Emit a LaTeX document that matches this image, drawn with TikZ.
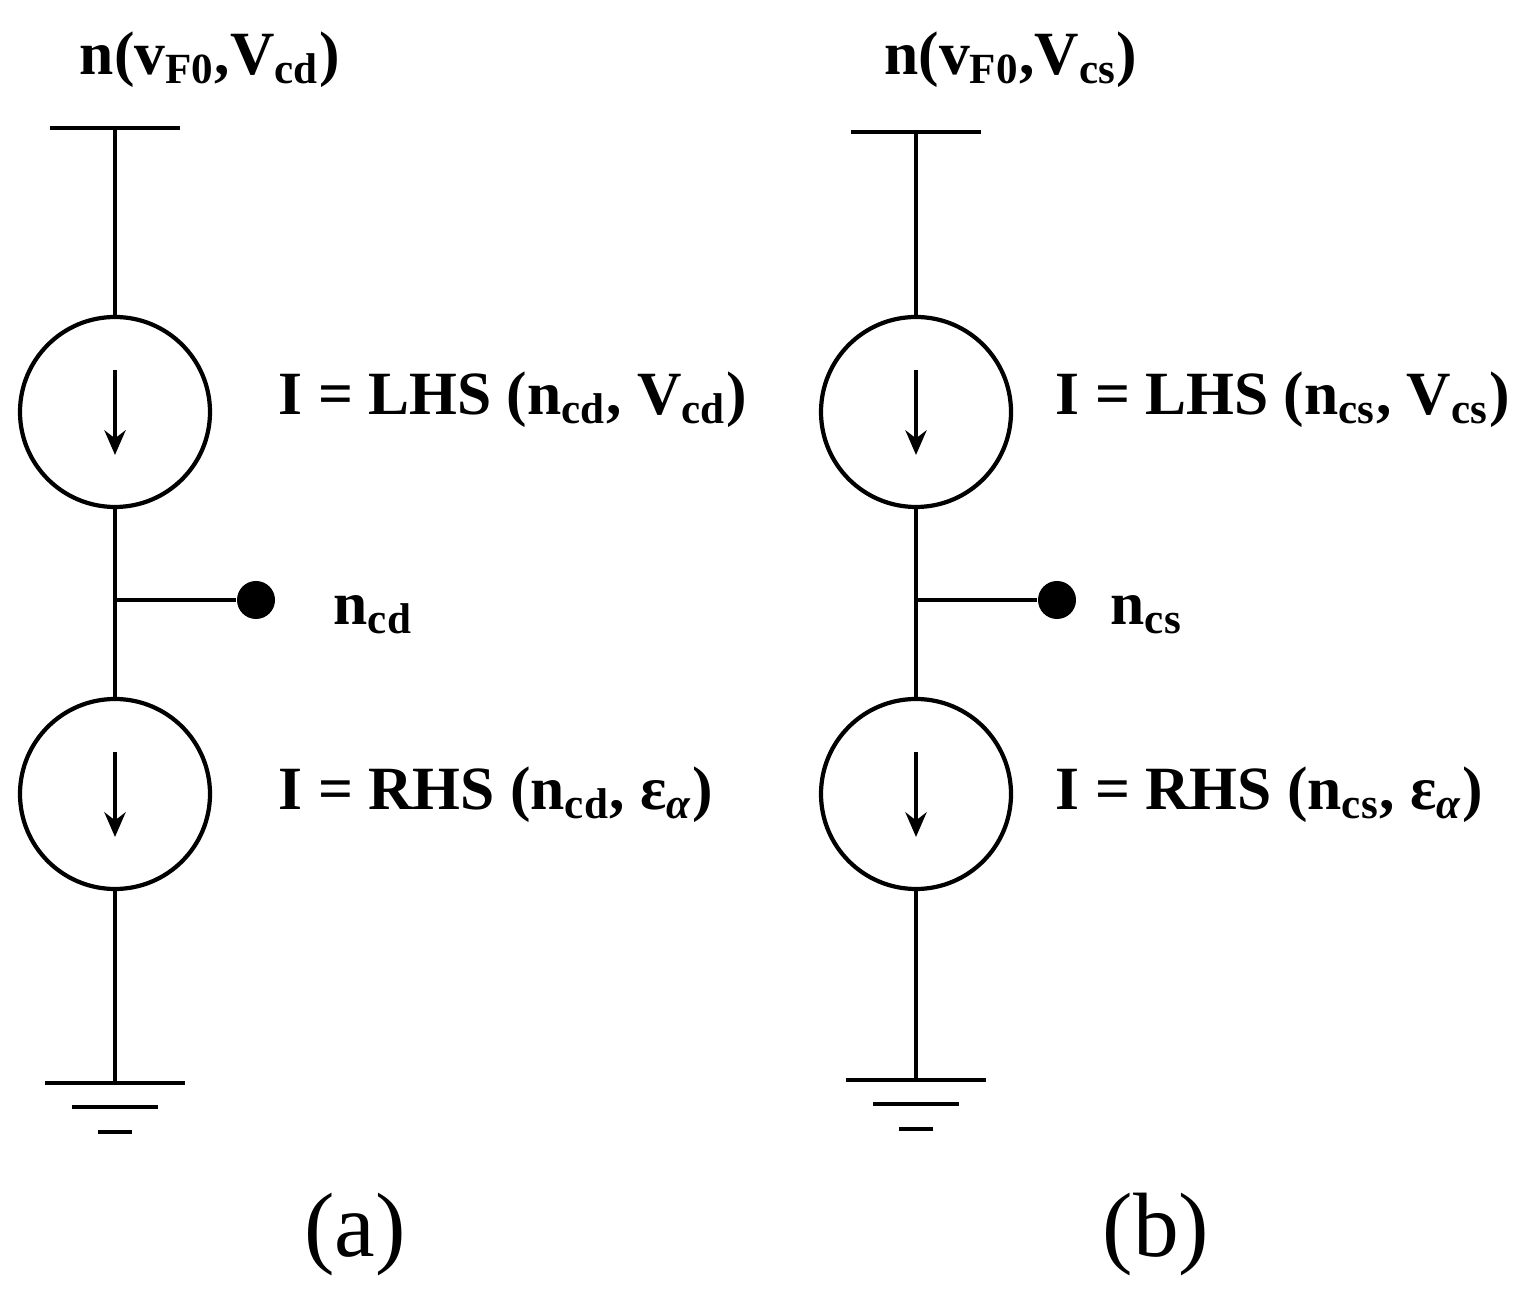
\documentclass[tikz,border=0pt]{standalone}
\usepackage{fontspec}
\setmainfont{Liberation Serif}
\usetikzlibrary{arrows.meta}
\newcommand{\sbs}[1]{\textsubscript{#1}}
\begin{document}
\begin{tikzpicture}[x=1cm,y=1cm,
    wire/.style={line width=1.2pt},
    src/.style={circle,draw,line width=1.2pt,minimum size=1.9cm,inner sep=0pt},
    dot/.style={circle,fill=black,minimum size=0.38cm,inner sep=0pt},
    lbl/.style={font=\fontsize{17.5}{21}\selectfont\bfseries,inner sep=0pt},
    caption/.style={font=\fontsize{26}{30}\selectfont,inner sep=0pt}]
    \useasboundingbox (0,0) rectangle (15.19,13.05);

    % Deux circuits : (a) a gauche, (b) a droite
    \foreach \x/\t/\yb/\yg/\o/\c in {1.15/cd/11.77/2.22/1.63/a, 9.16/cs/11.73/2.25/1.39/b}{
        % Source du haut, source du bas, noeud de sortie
        \node[src] (top\c) at (\x,8.93) {};
        \node[src] (bot\c) at (\x,5.11) {};
        \coordinate (j\c) at (\x,7.05);
        \node[dot] (d\c) at (\x+1.41,7.05) {};
        \coordinate (sup\c) at (\x,\yb);
        \coordinate (gnd\c) at (\x,\yg);

        % Fils
        \draw[wire] (sup\c) -- (top\c);
        \draw[wire] (top\c) -- (bot\c);
        \draw[wire] (j\c) -- (d\c);
        \draw[wire] (bot\c) -- (gnd\c);
        \draw[wire] ([xshift=-0.65cm]sup\c) -- ([xshift=0.65cm]sup\c);

        % Masse
        \draw[wire] ([xshift=-0.7cm]gnd\c) -- ([xshift=0.7cm]gnd\c);
        \draw[wire] ([xshift=-0.43cm,yshift=-0.24cm]gnd\c) -- ([xshift=0.43cm,yshift=-0.24cm]gnd\c);
        \draw[wire] ([xshift=-0.17cm,yshift=-0.49cm]gnd\c) -- ([xshift=0.17cm,yshift=-0.49cm]gnd\c);

        % Fleches des sources
        \draw[wire,-{Stealth[length=7pt,width=6pt]}] ([yshift=0.42cm]top\c.center) -- ([yshift=-0.43cm]top\c.center);
        \draw[wire,-{Stealth[length=7pt,width=6pt]}] ([yshift=0.42cm]bot\c.center) -- ([yshift=-0.43cm]bot\c.center);

        % Etiquettes
        \node[lbl,anchor=west] (lt\c) at (\x+\o,9.05) {I = LHS (n\sbs{\t}, V\sbs{\t})};
        \node[lbl,anchor=west] (lb\c) at (\x+\o,5.1) {I = RHS (n\sbs{\t}, ε\sbs{\textit{α}})};
        \node[lbl,anchor=west] (ln\c) at (\x+\o+0.55,6.9) {n\sbs{\t}};
        \node[lbl] (ls\c) at (\x+0.95,12.45) {n(v\sbs{F0},V\sbs{\t})};
        \node[caption] (cap\c) at (\x+2.4,0.7) {(\c)};
    }
\end{tikzpicture}
\end{document}
